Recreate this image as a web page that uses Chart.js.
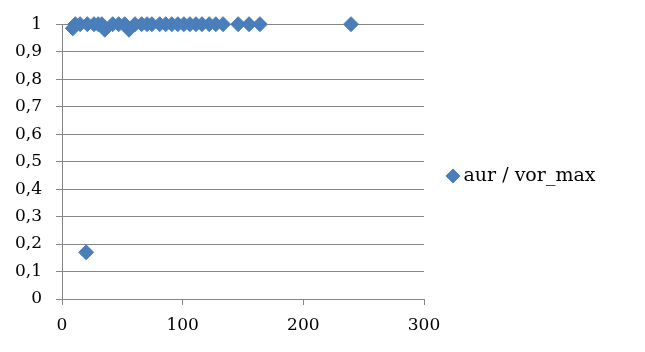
<!DOCTYPE html>
<html>
<head>
<meta charset="utf-8">
<script src="https://cdn.jsdelivr.net/npm/chart.js@4.4.1/dist/chart.umd.min.js"></script>
<style>
  html, body { margin: 0; padding: 0; background: #fff; }
  #wrap { width: 645px; height: 352px; position: relative; }
</style>
</head>
<body>
<div id="wrap"><canvas id="chart"></canvas></div>
<script>
const seriesLabel = 'aur / vor_max';
const xValues = [9, 11, 15, 20, 21, 26.5, 30, 33, 35.5, 42, 47, 52, 55.5, 60.5, 66, 70.5, 74.5, 81, 86, 91, 96, 101, 106, 111, 116, 122, 127.5, 133.5, 146, 155, 164, 239.5];
const yValues = [0.985, 1, 1, 0.17, 1, 1, 1, 1, 0.98, 1, 1, 1, 0.98, 1, 1, 1, 1, 1, 1, 1, 1, 1, 1, 1, 1, 1, 1, 1, 1, 1, 1, 1];
const yTickLabels = ['0', '0,1', '0,2', '0,3', '0,4', '0,5', '0,6', '0,7', '0,8', '0,9', '1'];
const xTickLabels = ['0', '100', '200', '300'];

const markerColor = '#4a7ebb';
const gridColor = '#868686';
const textColor = '#000000';
const fontFamily = '"DejaVu Serif", serif';

// keep the legend column at a fixed width so the plot ends where the reference does,
// and centre it on the whole canvas height rather than below the top padding
const fixedLegend = {
  id: 'fixedLegend',
  beforeUpdate(chart) {
    const legend = chart.legend;
    if (!legend || legend._fixed) return;
    const fit = legend.fit;
    legend.fit = function () {
      fit.call(this);
      this.width = 221;
    };
    legend._fixed = true;
  },
  afterLayout(chart) {
    const legend = chart.legend;
    if (!legend) return;
    legend.top = 0;
    legend.bottom = chart.height;
  }
};

const points = xValues.map((x, i) => ({ x, y: yValues[i] }));

new Chart(document.getElementById('chart'), {
  type: 'scatter',
  data: {
    datasets: [{
      label: seriesLabel,
      data: points,
      pointStyle: 'rectRot',
      pointRadius: 7.5,
      pointHoverRadius: 7.5,
      backgroundColor: markerColor,
      borderColor: markerColor,
      borderWidth: 1,
      clip: false
    }]
  },
  options: {
    responsive: true,
    maintainAspectRatio: false,
    animation: false,
    layout: { padding: { top: 22, left: 0, right: 0, bottom: 0 } },
    plugins: {
      tooltip: { enabled: false },
      legend: {
        position: 'right',
        labels: {
          usePointStyle: true,
          boxWidth: 2,
          boxHeight: 10,
          padding: 28,
          color: textColor,
          font: { family: fontFamily, size: 19 }
        }
      }
    },
    scales: {
      x: {
        type: 'linear',
        min: 0,
        max: 300,
        afterFit: (scale) => { scale.height = 53; },
        afterBuildTicks: (scale) => {
          scale.ticks = xTickLabels.map((t) => ({ value: Number(t) }));
        },
        border: { display: true, color: gridColor, width: 1 },
        grid: { drawOnChartArea: false, drawTicks: true, tickLength: 6, color: gridColor },
        ticks: {
          padding: 10,
          maxRotation: 0,
          color: textColor,
          font: { family: fontFamily, size: 17 },
          callback: (value, index) => xTickLabels[index]
        }
      },
      y: {
        type: 'linear',
        min: 0,
        max: 1,
        afterFit: (scale) => { scale.width = 62; },
        afterBuildTicks: (scale) => {
          scale.ticks = yTickLabels.map((t, i) => ({ value: i / 10 }));
        },
        border: { display: true, color: gridColor, width: 1 },
        grid: { color: gridColor, lineWidth: 1, drawTicks: true, tickLength: 6 },
        ticks: {
          padding: 14,
          color: textColor,
          font: { family: fontFamily, size: 17 },
          callback: (value, index) => yTickLabels[index]
        }
      }
    }
  },
  plugins: [fixedLegend]
});
</script>
</body>
</html>
